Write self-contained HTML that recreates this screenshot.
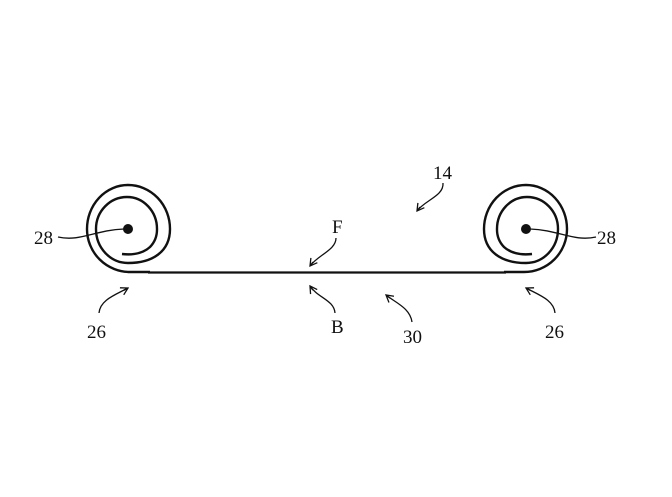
<!DOCTYPE html>
<html><head><meta charset="utf-8"><style>
html,body{margin:0;padding:0;background:#fff;}
svg{display:block;}
text{font-family:"Liberation Serif",serif;font-size:19px;fill:#111;}
</style></head><body>
<svg width="672" height="497" viewBox="0 0 672 497" xmlns="http://www.w3.org/2000/svg">
<defs>
<marker id="a" markerWidth="10" markerHeight="10" refX="8" refY="5" orient="auto" markerUnits="userSpaceOnUse">
<path d="M1,1 L8,5 L1,9 M3,5 L8,5" fill="none" stroke="#111" stroke-width="1.3"/>
</marker>
<g id="sp" fill="none" stroke="#111" stroke-width="2.4">
<path d="M122,254 Q140,256 150,247 A 22 24 0 0 0 157,229 A 30 32 0 0 0 127,197 A 31 32 0 0 0 96,229 A 32 34 0 0 0 128,263 C 152,263 170,252 170,229 A 42 44 0 0 0 128,185 A 41 44 0 0 0 87,229 A 43 43 0 0 0 130,272 L 150,272"/>
</g>
</defs>
<use href="#sp"/>
<use href="#sp" transform="translate(654,0) scale(-1,1)"/>
<line x1="148" y1="272.5" x2="506" y2="272.5" stroke="#111" stroke-width="2.2"/>
<circle cx="128" cy="229" r="5" fill="#111"/>
<circle cx="526" cy="229" r="5" fill="#111"/>
<g fill="none" stroke="#111" stroke-width="1.3">
<path d="M58,237 C80,242 95,230 124,229"/>
<path d="M596,237 C574,242 559,230 530,229"/>
<path d="M99,313 C100,300 115,295 128,288" marker-end="url(#a)"/>
<path d="M555,313 C554,300 539,295 526,288" marker-end="url(#a)"/>
<path d="M336,238 C336,250 318,255 310,266" marker-end="url(#a)"/>
<path d="M335,313 C334,300 318,298 310,286" marker-end="url(#a)"/>
<path d="M412,322 C410,308 396,303 386,295" marker-end="url(#a)"/>
<path d="M443,183 C444,196 425,200 417,211" marker-end="url(#a)"/>
</g>
<text x="34" y="244">28</text>
<text x="597" y="244">28</text>
<text x="87" y="338">26</text>
<text x="545" y="338">26</text>
<text x="332" y="233">F</text>
<text x="331" y="333">B</text>
<text x="403" y="343">30</text>
<text x="433" y="179">14</text>
</svg>
</body></html>
